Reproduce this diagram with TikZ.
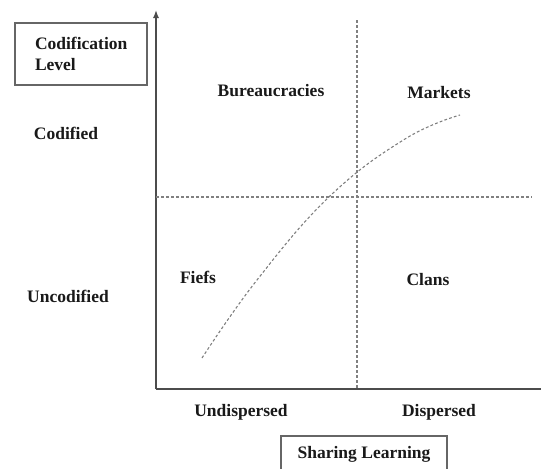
\documentclass[tikz,border=0pt]{standalone}
\usepackage{fontspec}
\setmainfont{Liberation Serif}
\usetikzlibrary{arrows.meta}
\tikzset{
  axis/.style={draw=black!70, line width=1.4pt},
  guide/.style={draw=black!50, line width=1.2pt, dash pattern=on 2.8pt off 2.2pt},
  lbl/.style={font=\fontsize{17.5}{21}\selectfont\bfseries, text=black!90, inner sep=0pt},
  titlebox/.style={draw=black!60, line width=1.2pt, font=\fontsize{17.5}{21}\selectfont\bfseries, text=black!90}
}
\begin{document}
\begin{tikzpicture}[x=1pt, y=-1pt]
  \useasboundingbox (0,0) rectangle (542,469);

  % axes
  \coordinate (o) at (156,389);
  \coordinate (ytop) at (156,10);
  \coordinate (xend) at (541,389);
  \draw[axis, -{Latex[length=8pt,width=6pt]}] (o) -- (ytop);
  \draw[axis] (o) -- (xend);

  % quadrant dividers
  \coordinate (vtop) at (357,20);
  \coordinate (vbot) at (357,389);
  \coordinate (hl) at (156,197);
  \coordinate (hr) at (532,197);
  \draw[guide] (vtop) -- (vbot);
  \draw[guide] (hl) -- (hr);

  % learning curve
  \draw[guide, line width=1.1pt] plot[smooth, tension=0.7] coordinates
    {(202,358) (257,280) (330,196) (405,139) (460,115)};

  % axis title boxes
  \node[titlebox, minimum width=132pt, minimum height=62pt, align=left,
        text width=92pt, inner xsep=20pt] (codlevel) at (81,54)
        {Codification\\Level};
  \node[titlebox, minimum width=166pt, minimum height=36pt] (sharing) at (364,454)
        {Sharing Learning};

  % axis values
  \node[lbl] (codified) at (66,133) {Codified};
  \node[lbl] (uncodified) at (68,296) {Uncodified};
  \node[lbl] (undisp) at (241,412) {Undispersed};
  \node[lbl] (disp) at (439,412) {Dispersed};

  % quadrants
  \node[lbl] (bureau) at (271,91) {Bureaucracies};
  \node[lbl] (markets) at (439,93) {Markets};
  \node[lbl] (fiefs) at (198,277) {Fiefs};
  \node[lbl] (clans) at (428,280) {Clans};
\end{tikzpicture}
\end{document}
